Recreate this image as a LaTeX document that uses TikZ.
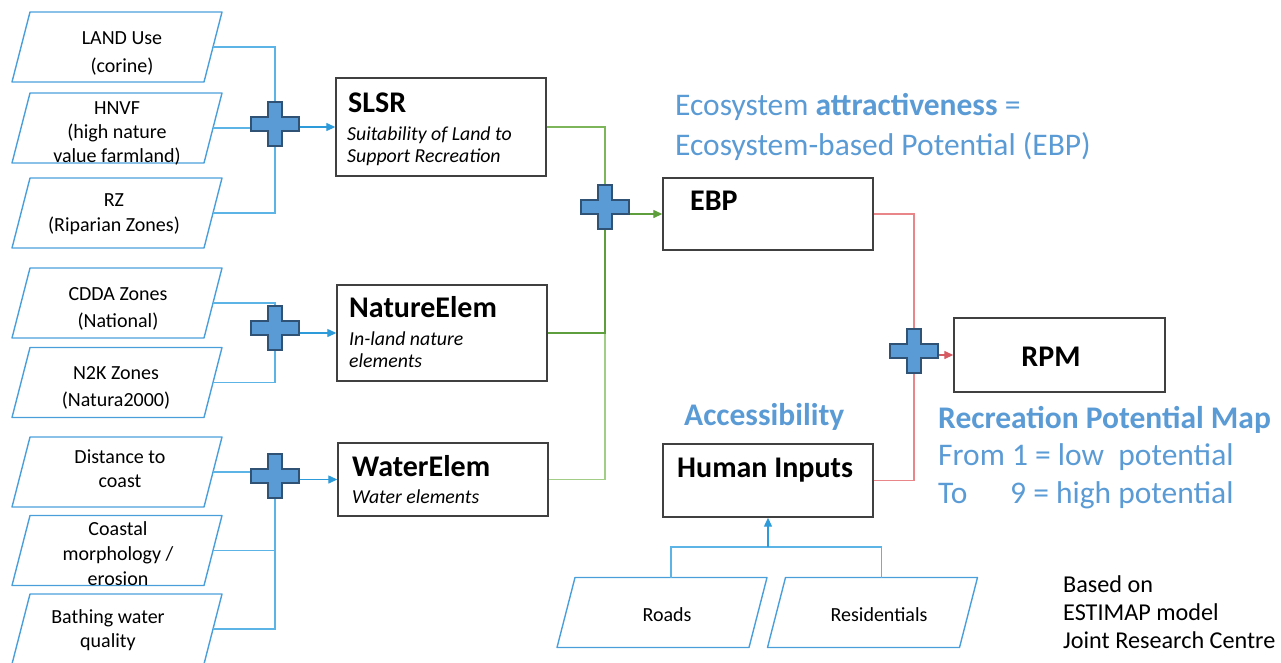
\documentclass[tikz,border=0pt]{standalone}
\usepackage{fontspec}
\setmainfont{Carlito}
\usetikzlibrary{arrows.meta}

\definecolor{inedge}{HTML}{4A9FDB}
\definecolor{bline}{HTML}{5CB3E6}
\definecolor{barrow}{HTML}{2D9ADA}
\definecolor{plusfill}{HTML}{5B9BD5}
\definecolor{plusedge}{HTML}{2F5275}
\definecolor{boxedge}{HTML}{404040}
\definecolor{gdark}{HTML}{5E9E3C}
\definecolor{gmid}{HTML}{7DB55A}
\definecolor{glight}{HTML}{A2CD87}
\definecolor{rline}{HTML}{E8868A}
\definecolor{rarrow}{HTML}{D65A62}
\definecolor{bluetext}{HTML}{5B9BD5}

\tikzset{
  % slanted input data sets
  inshape/.style={minimum width=212pt, minimum height=72pt, inner sep=0pt, outer sep=0pt,
    path picture={\draw[inedge, line width=1.4pt, line join=round]
      ([xshift=19pt,yshift=-1pt]path picture bounding box.north west) --
      ([xshift=-1pt,yshift=-1pt]path picture bounding box.north east) --
      ([xshift=-19pt,yshift=1pt]path picture bounding box.south east) --
      ([xshift=1pt,yshift=1pt]path picture bounding box.south west) -- cycle;}},
  intext/.style={align=center, inner sep=0pt, font=\fontsize{20}{25}\selectfont},
  smalltxt/.style={inner sep=0pt, font=\fontsize{20}{24}\selectfont},
  % combination operator
  plusnode/.style={minimum width=50pt, minimum height=46pt, inner sep=0pt, outer sep=0pt,
    path picture={\filldraw[fill=plusfill, draw=plusedge, line width=1.2pt, line join=miter]
      ([xshift=-24pt,yshift=7pt]path picture bounding box.center) -- ++(17pt,0pt) -- ++(0pt,15pt)
      -- ++(14pt,0pt) -- ++(0pt,-15pt) -- ++(17pt,0pt) -- ++(0pt,-14pt) -- ++(-17pt,0pt)
      -- ++(0pt,-15pt) -- ++(-14pt,0pt) -- ++(0pt,15pt) -- ++(-17pt,0pt) -- cycle;}},
  layerbox/.style={draw=boxedge, line width=1.4pt, inner sep=0pt, minimum width=210pt},
  btitle/.style={inner sep=0pt, font=\fontsize{30}{34}\selectfont\bfseries},
  stitle/.style={inner sep=0pt, font=\fontsize{19.8}{22}\selectfont\itshape},
  bluetxt/.style={inner sep=0pt, text=bluetext, font=\fontsize{31.5}{36}\selectfont},
  bluebold/.style={inner sep=0pt, text=bluetext, font=\fontsize{31.5}{36}\selectfont\bfseries},
  notetxt/.style={inner sep=0pt, font=\fontsize{24.2}{28}\selectfont},
  blueln/.style={draw=bline, line width=1.3pt},
  bluearr/.style={draw=barrow, line width=1.3pt, -{Triangle[length=9pt,width=8pt]}},
  tip/.style={-{Triangle[length=9pt,width=8pt]}}
}

\begin{document}
\begin{tikzpicture}[x=1pt,y=-1pt]
\useasboundingbox (0,0) rectangle (1281,662);

% ---- input data sets
\node[inshape] (land) at (117,47) {};
\node[inshape] (hnvf) at (117,128) {};
\node[inshape] (rz) at (117,213) {};
\node[inshape] (cdda) at (117,303) {};
\node[inshape] (ntk) at (117,382.5) {};
\node[inshape] (dist) at (117,472) {};
\node[inshape] (coast) at (117,550.5) {};
\node[inshape] (bath) at (117,629) {};
\node[inshape] (roads) at (662,612.5) {};
\node[inshape] (resid) at (872.5,612.5) {};

\node[intext, font=\fontsize{20}{28}\selectfont] (landT) at (122,53) {LAND Use\\(corine)};
\node[intext, font=\fontsize{20}{24}\selectfont] (hnvfT) at (117,133) {HNVF\\(high nature\\value farmland)};
\node[intext] (rzT) at (114,214) {RZ\\(Riparian Zones)};
\node[intext, font=\fontsize{20}{27}\selectfont] (cddaT) at (118,309) {CDDA Zones\\(National)};
\node[intext, font=\fontsize{20}{27}\selectfont] (ntkT) at (116,387.5) {N2K Zones\\(Natura2000)};
\node[intext, font=\fontsize{20}{24}\selectfont] (distT) at (120,469) {Distance to\\coast};
\node[intext] (coastT) at (118,553.5) {Coastal\\morphology /\\erosion};
\node[intext, font=\fontsize{20}{24}\selectfont] (bathT) at (108,630) {Bathing water\\quality};
\node[smalltxt] (roadsT) at (667,615) {Roads};
\node[smalltxt] (residT) at (879,615) {Residentials};

% ---- combination operators
\node[plusnode] (p1) at (275,124) {};
\node[plusnode] (p2) at (275,328) {};
\node[plusnode] (p3) at (275,476) {};
\node[plusnode] (p4) at (605,207) {};
\node[plusnode] (p5) at (914,351) {};

% ---- component layers
\node[layerbox, minimum height=98pt] (slsr) at (441,127) {};
\node[layerbox, minimum height=96pt] (ne) at (442,333) {};
\node[layerbox, minimum height=73pt] (we) at (443,479.5) {};
\node[layerbox, minimum height=72pt] (ebp) at (768,214) {};
\node[layerbox, minimum height=73pt] (hi) at (768,480.5) {};
\node[layerbox, minimum height=74pt, minimum width=211pt] (rpm) at (1059.5,355) {};

\node[btitle, anchor=base west] (slsrT) at (348,112) {SLSR};
\node[stitle, anchor=base west] (slsrS1) at (347,140) {Suitability of Land to};
\node[stitle, anchor=base west] (slsrS2) at (347,162) {Support Recreation};
\node[btitle, anchor=base west] (neT) at (349,317) {NatureElem};
\node[stitle, anchor=base west] (neS1) at (349,345) {In-land nature};
\node[stitle, anchor=base west] (neS2) at (349,367) {elements};
\node[btitle, anchor=base west] (weT) at (352,476) {WaterElem};
\node[stitle, anchor=base west] (weS) at (352,503) {Water elements};
\node[btitle, anchor=base west] (ebpT) at (690,210) {EBP};
\node[btitle, anchor=base west] (hiT) at (677,477) {Human Inputs};
\node[btitle] (rpmT) at (1051,357) {RPM};

% ---- annotations
\node[bluetxt, anchor=base west] (eco1) at (675,115) {Ecosystem \textbf{attractiveness} =};
\node[bluetxt, anchor=base west] (eco2) at (675,155) {Ecosystem-based Potential (EBP)};
\node[bluebold, anchor=base west] (accT) at (684,425) {Accessibility};
\node[bluebold, anchor=base west] (recT) at (938,428) {Recreation Potential Map};
\node[bluetxt, anchor=base west] (fromT) at (938,465) {From 1 = low\ \ potential};
\node[bluetxt, anchor=base west] (toT) at (938,503) {\makebox[72pt][l]{To}9 = high potential};
\node[notetxt, anchor=base west] (note1) at (1063,592) {Based on};
\node[notetxt, anchor=base west] (note2) at (1063,620) {ESTIMAP model};
\node[notetxt, anchor=base west] (note3) at (1063,648) {Joint Research Centre};

% ---- connectors: input data to operators
\draw[blueln] ([xshift=-10pt]land.east) -| (p1.north);
\draw[blueln] ([xshift=-10pt]hnvf.east) -- (hnvf.east -| p1.west);
\draw[blueln] ([xshift=-10pt]rz.east) -| (p1.south);
\draw[bluearr] (p1.east |- slsr.west) -- (slsr.west);

\draw[blueln] ([xshift=-10pt]cdda.east) -| (p2.north);
\draw[blueln] ([xshift=-10pt]ntk.east) -| (p2.south);
\draw[bluearr] (p2.east |- ne.west) -- (ne.west);

\draw[blueln] ([xshift=-10pt]dist.east) -- (dist.east -| p3.west);
\draw[blueln] ([xshift=-10pt]coast.east) -| (p3.south);
\draw[blueln] ([xshift=-10pt]bath.east) -| (p3.south);
\draw[bluearr] (p3.east |- we.west) -- (we.west);

% ---- connectors: layers to EBP
\draw[glight, line width=1.3pt] (we.east) -| (p4.south);
\draw[gdark, line width=1.3pt] (ne.east) -| (p4.south);
\draw[gmid, line width=1.3pt] (slsr.east) -| (p4.north);
\draw[gdark, line width=1.3pt, tip] (p4.east |- ebp.west) -- (ebp.west);

% ---- connectors: EBP and accessibility to RPM
\draw[rline, line width=1.3pt] (ebp.east) -| (p5.north);
\draw[rline, line width=1.3pt] (hi.east) -| (p5.south);
\draw[rarrow, line width=1.3pt, tip] (p5.east |- rpm.west) -- (rpm.west);

% ---- accessibility inputs
\coordinate (accj) at (768,547);
\draw[blueln] ([xshift=9pt,yshift=-1pt]roads.north) |- (accj) -| ([xshift=9pt,yshift=-1pt]resid.north);
\draw[bluearr] (accj) -- (hi.south);
\end{tikzpicture}
\end{document}
